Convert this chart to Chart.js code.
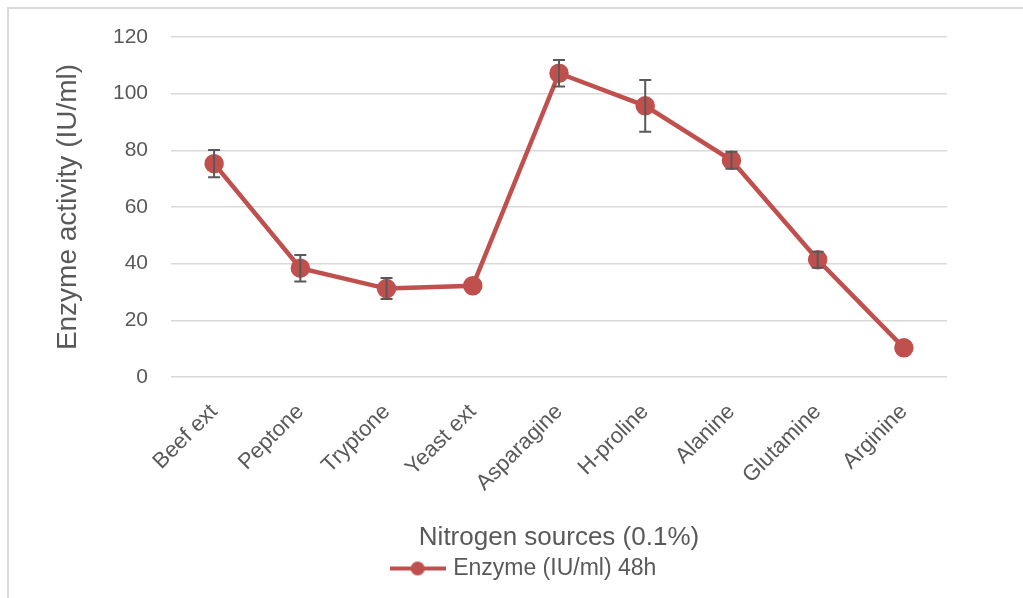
<!DOCTYPE html>
<html>
<head>
<meta charset="utf-8">
<script src="https://cdn.jsdelivr.net/npm/chart.js@4"></script>
<style>
  body { margin: 0; background: #fff; }
  #box {
    position: absolute; left: 7px; top: 7px; width: 1016px; height: 591px;
    border-left: 2px solid #d9d9d9; border-top: 2px solid #d9d9d9;
  }
</style>
</head>
<body>
<div id="box"><canvas id="chart" width="1014" height="589"></canvas></div>
<script>
const sources = ["Beef ext", "Peptone", "Tryptone", "Yeast ext", "Asparagine", "H-proline", "Alanine", "Glutamine", "Arginine"];
const activity = [75.3, 38.4, 31.2, 32.2, 107.2, 95.7, 76.5, 41.4, 10.3];
const errors = [4.8, 4.7, 3.7, 0, 4.7, 9.1, 3.0, 2.8, 0];
const yTicks = [0, 20, 40, 60, 80, 100, 120];

const red = "#C0504D";
const grey = "#595959";

// legend marker: line with a dot on it
const marker = document.createElement("canvas");
marker.width = 56; marker.height = 16;
const mctx = marker.getContext("2d");
mctx.strokeStyle = red; mctx.lineWidth = 4;
mctx.beginPath(); mctx.moveTo(0, 8); mctx.lineTo(56, 8); mctx.stroke();
mctx.fillStyle = red;
mctx.beginPath(); mctx.arc(28, 8, 7, 0, Math.PI * 2); mctx.fill();

const errorBars = {
  id: "errorBars",
  afterDatasetsDraw(chart) {
    const ctx = chart.ctx;
    const x = chart.scales.x, y = chart.scales.y;
    ctx.save();
    ctx.strokeStyle = grey;
    ctx.lineWidth = 2;
    activity.forEach((v, i) => {
      if (!errors[i]) return;
      const px = x.getPixelForValue(i);
      const top = y.getPixelForValue(v + errors[i]);
      const bot = y.getPixelForValue(v - errors[i]);
      ctx.beginPath();
      ctx.moveTo(px, top); ctx.lineTo(px, bot);
      ctx.moveTo(px - 6, top); ctx.lineTo(px + 6, top);
      ctx.moveTo(px - 6, bot); ctx.lineTo(px + 6, bot);
      ctx.stroke();
    });
    ctx.restore();
  }
};

new Chart(document.getElementById("chart"), {
  type: "line",
  data: {
    labels: sources,
    datasets: [{
      label: "Enzyme (IU/ml) 48h",
      data: activity,
      borderColor: red,
      backgroundColor: red,
      borderWidth: 4.5,
      pointRadius: 7.5,
      pointHoverRadius: 7.5,
      pointStyle: "circle",
      tension: 0
    }]
  },
  options: {
    responsive: false,
    animation: false,
    layout: { padding: { left: 18, right: 0, top: 28, bottom: 8 } },
    plugins: {
      tooltip: { enabled: false },
      legend: {
        position: "bottom",
        labels: {
          usePointStyle: true,
          pointStyleWidth: 48,
          color: grey,
          font: { family: "Liberation Sans", size: 23 },
          padding: 4,
          generateLabels: () => [{
            text: "Enzyme (IU/ml) 48h",
            pointStyle: marker,
            fontColor: grey,
            datasetIndex: 0
          }]
        }
      }
    },
    scales: {
      x: {
        offset: true,
        grid: { display: false },
        border: { display: false },
        afterFit: (axis) => { axis.height = 176; },
        ticks: {
          color: grey,
          font: { family: "Liberation Sans", size: 22 },
          minRotation: 45,
          maxRotation: 45,
          padding: 14
        },
        title: {
          display: true,
          text: "Nitrogen sources (0.1%)",
          color: grey,
          font: { family: "Liberation Sans", size: 26 },
          padding: { top: 0, bottom: 0 }
        }
      },
      y: {
        min: 0,
        max: 120,
        afterBuildTicks: (axis) => { axis.ticks = yTicks.map(v => ({ value: v })); },
        afterFit: (axis) => { axis.width = 144; axis.paddingTop = 0; axis.paddingBottom = 0; },
        grid: { color: "#d9d9d9", lineWidth: 1.5, drawTicks: false },
        border: { display: false },
        ticks: {
          color: grey,
          font: { family: "Liberation Sans", size: 21 },
          padding: 23
        },
        title: {
          display: true,
          text: "Enzyme activity (IU/ml)",
          color: grey,
          font: { family: "Liberation Sans", size: 28 },
          padding: { top: 24, bottom: 0 }
        }
      },
      // empty right-hand strip so the plot stops short of the edge
      side: {
        position: "right",
        min: 0,
        max: 1,
        afterFit: (axis) => { axis.width = 76; axis.paddingTop = 0; axis.paddingBottom = 0; },
        grid: { display: false },
        border: { display: false },
        ticks: { display: false }
      }
    }
  },
  plugins: [errorBars]
});
</script>
</body>
</html>
